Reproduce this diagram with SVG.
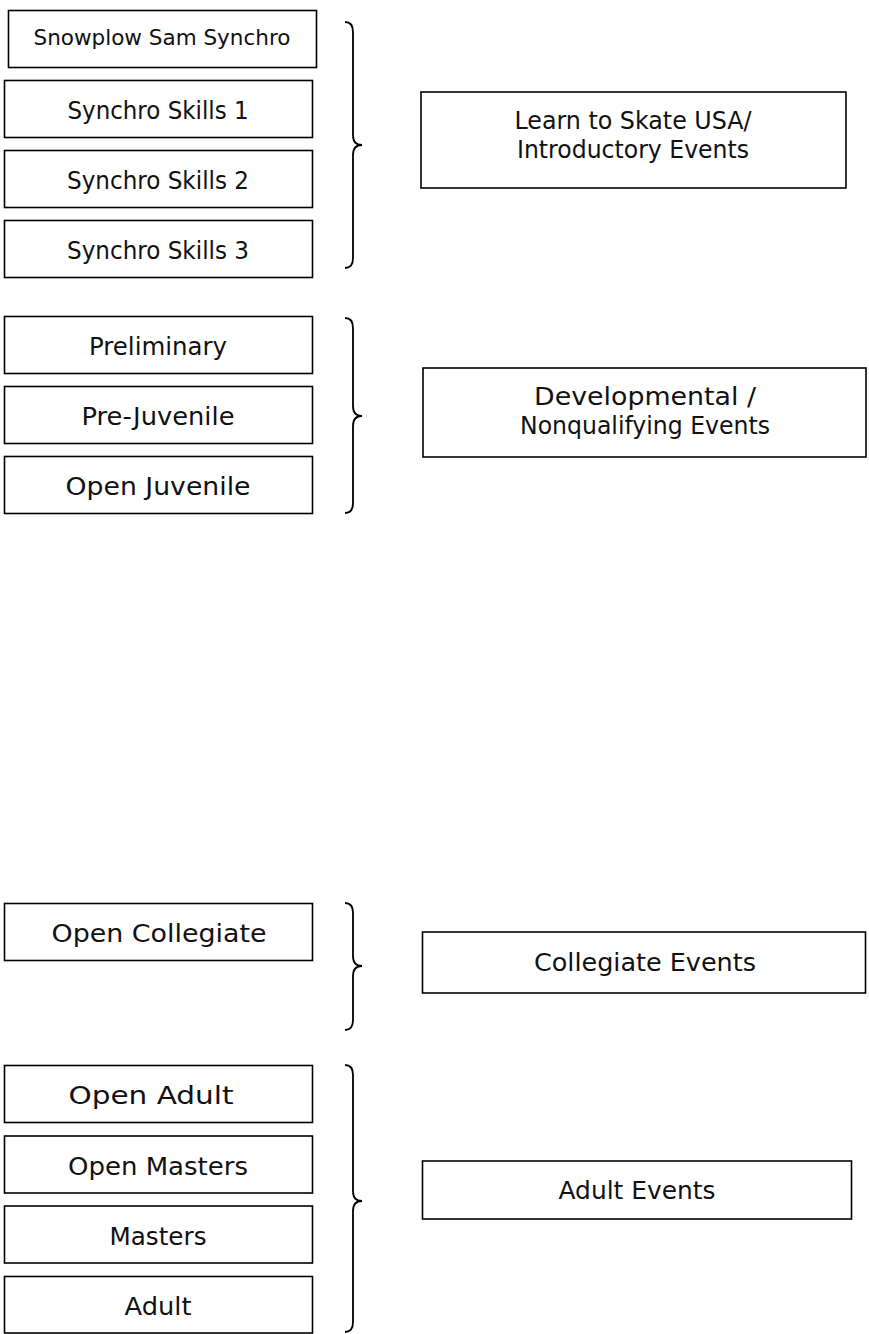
<svg xmlns="http://www.w3.org/2000/svg" width="869" height="1334" viewBox="0 0 869 1334">
<style>
.box{fill:#fff;stroke:#000;stroke-width:1.6}
.t{font-family:"DejaVu Sans","Liberation Sans",sans-serif;font-size:24px;fill:#111;text-anchor:middle}
.brace{fill:none;stroke:#000;stroke-width:1.8}
</style>
<rect width="869" height="1334" fill="#fff"/>
<g id="snowplow"><rect class="box" x="8.5" y="10.5" width="308" height="57"/><text class="t" x="162" y="45" style="font-size:22px" textLength="257" lengthAdjust="spacingAndGlyphs">Snowplow Sam Synchro</text></g>
<g id="skills1"><rect class="box" x="4.5" y="80.5" width="308" height="57"/><text class="t" x="158" y="119" textLength="181" lengthAdjust="spacingAndGlyphs">Synchro Skills 1</text></g>
<g id="skills2"><rect class="box" x="4.5" y="150.5" width="308" height="57"/><text class="t" x="158" y="189" textLength="182" lengthAdjust="spacingAndGlyphs">Synchro Skills 2</text></g>
<g id="skills3"><rect class="box" x="4.5" y="220.5" width="308" height="57"/><text class="t" x="158" y="259" textLength="182" lengthAdjust="spacingAndGlyphs">Synchro Skills 3</text></g>
<g id="lts"><rect class="box" x="421" y="92" width="425" height="96"/><text class="t" x="633" y="129" textLength="237" lengthAdjust="spacingAndGlyphs">Learn to Skate USA/</text><text class="t" x="633" y="158" textLength="232" lengthAdjust="spacingAndGlyphs">Introductory Events</text></g>

<g id="preliminary"><rect class="box" x="4.5" y="316.5" width="308" height="57"/><text class="t" x="158" y="355" textLength="138" lengthAdjust="spacingAndGlyphs">Preliminary</text></g>
<g id="prejuvenile"><rect class="box" x="4.5" y="386.5" width="308" height="57"/><text class="t" x="158" y="425" textLength="153" lengthAdjust="spacingAndGlyphs">Pre-Juvenile</text></g>
<g id="openjuvenile"><rect class="box" x="4.5" y="456.5" width="308" height="57"/><text class="t" x="158" y="495" textLength="185" lengthAdjust="spacingAndGlyphs">Open Juvenile</text></g>
<g id="developmental"><rect class="box" x="423" y="368" width="443" height="89"/><text class="t" x="645" y="405" textLength="222" lengthAdjust="spacingAndGlyphs">Developmental /</text><text class="t" x="645" y="434" textLength="250" lengthAdjust="spacingAndGlyphs">Nonqualifying Events</text></g>

<g id="opencollegiate"><rect class="box" x="4.5" y="903.5" width="308" height="57"/><text class="t" x="159" y="942" textLength="215" lengthAdjust="spacingAndGlyphs">Open Collegiate</text></g>
<g id="collegiate"><rect class="box" x="422.5" y="932" width="443" height="61"/><text class="t" x="645" y="971" textLength="222" lengthAdjust="spacingAndGlyphs">Collegiate Events</text></g>

<g id="openadult"><rect class="box" x="4.5" y="1065.5" width="308" height="57"/><text class="t" x="151" y="1104" textLength="165" lengthAdjust="spacingAndGlyphs">Open Adult</text></g>
<g id="openmasters"><rect class="box" x="4.5" y="1136" width="308" height="57"/><text class="t" x="158" y="1175" textLength="180" lengthAdjust="spacingAndGlyphs">Open Masters</text></g>
<g id="masters"><rect class="box" x="4.5" y="1206" width="308" height="57"/><text class="t" x="158" y="1245" textLength="97" lengthAdjust="spacingAndGlyphs">Masters</text></g>
<g id="adult"><rect class="box" x="4.5" y="1276.5" width="308" height="56.5"/><text class="t" x="158" y="1315" textLength="67" lengthAdjust="spacingAndGlyphs">Adult</text></g>
<g id="adultevents"><rect class="box" x="422.5" y="1161" width="429" height="58"/><text class="t" x="637" y="1199" textLength="157" lengthAdjust="spacingAndGlyphs">Adult Events</text></g>

<g id="connectors">
<path class="brace" d="M345,22 Q353,22 353,32 L353,135 Q353,145 362,145 Q353,145 353,155 L353,258 Q353,268 345,268"/>
<path class="brace" d="M345,318 Q353,318 353,328 L353,406 Q353,416 362,416 Q353,416 353,426 L353,503 Q353,513 345,513"/>
<path class="brace" d="M345,903 Q353,903 353,913 L353,956 Q353,966 362,966 Q353,966 353,976 L353,1020 Q353,1030 345,1030"/>
<path class="brace" d="M345,1065 Q353,1065 353,1075 L353,1191 Q353,1201 362,1201 Q353,1201 353,1211 L353,1322 Q353,1332 345,1332"/>
</g>
</svg>
